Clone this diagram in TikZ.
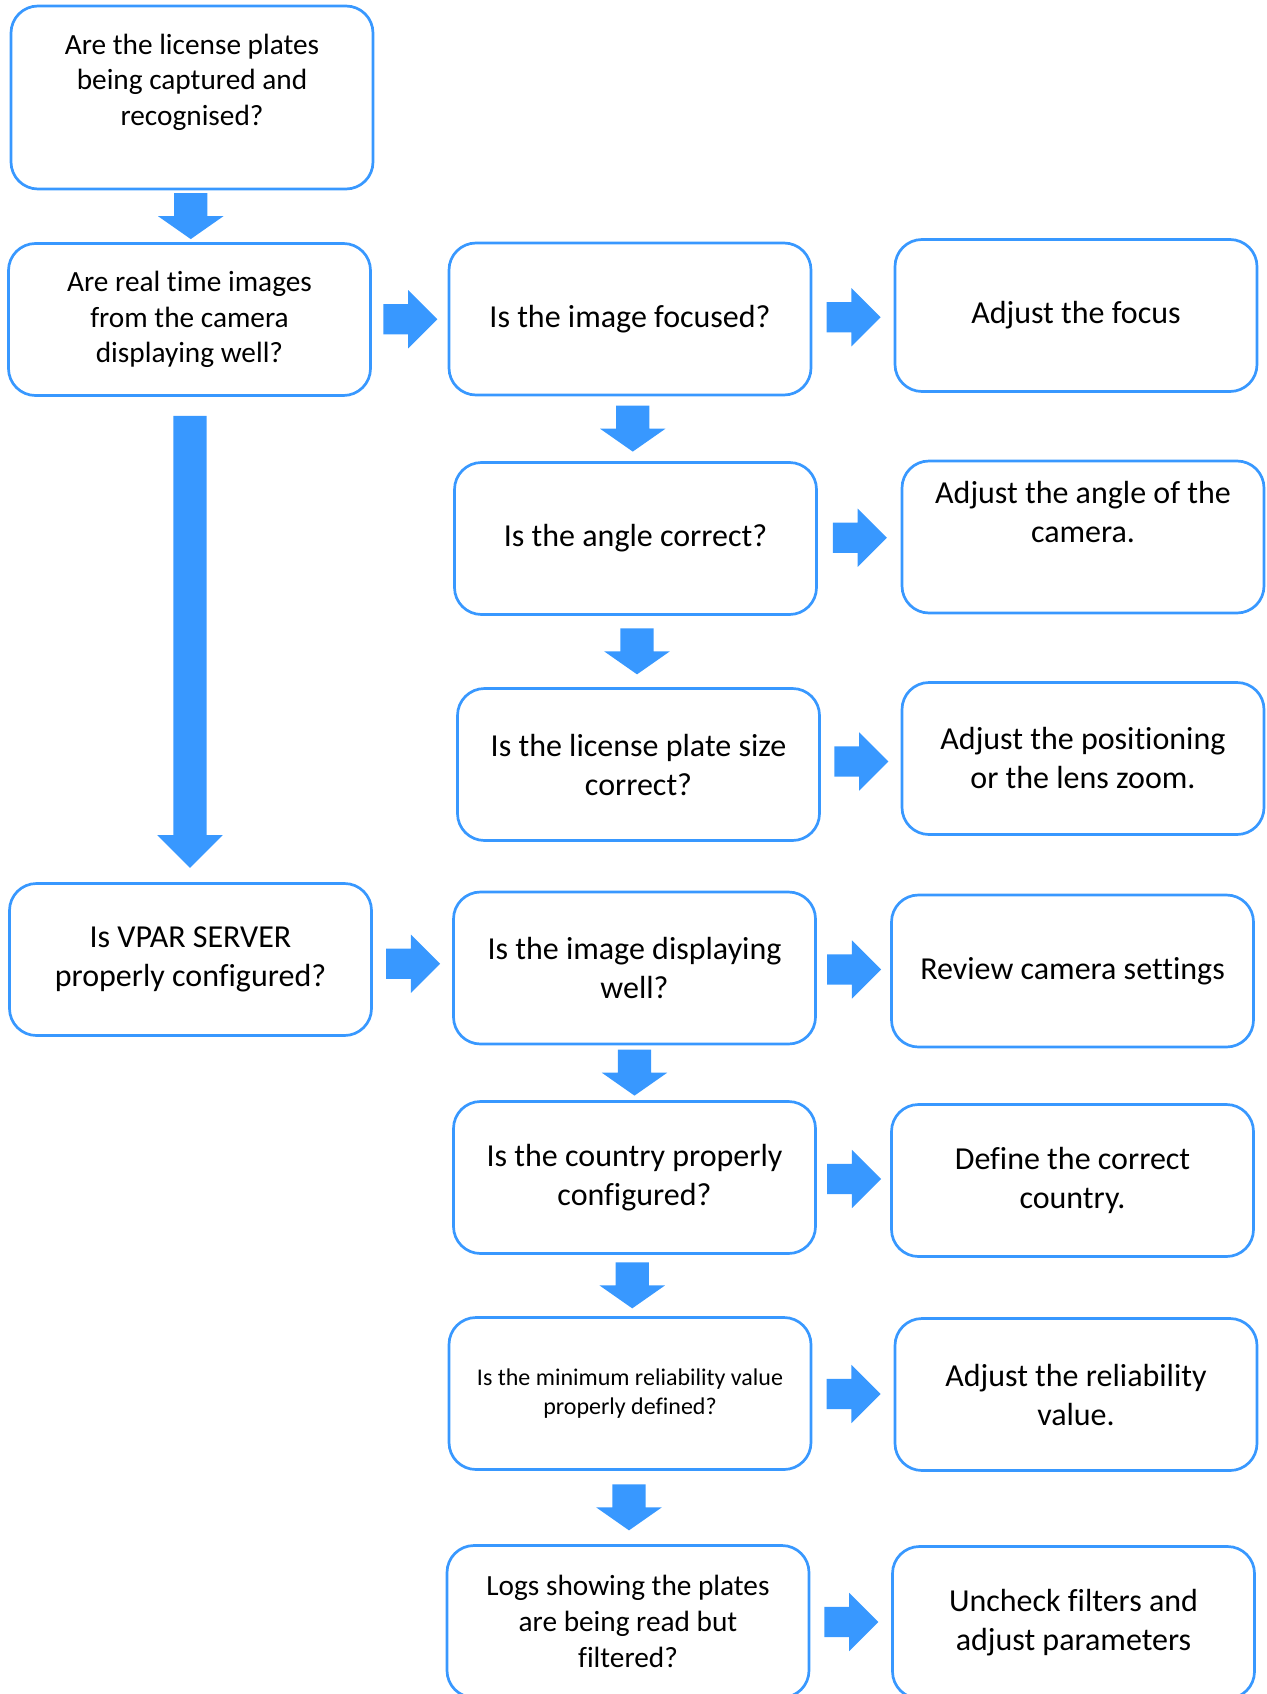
\documentclass[tikz,border=0pt]{standalone}
\usepackage{fontspec}
\setmainfont{Carlito}[Ligatures={NoCommon,NoContextual},RawFeature={-clig}]
\usetikzlibrary{shapes.arrows,calc}
\definecolor{flowblue}{RGB}{56,152,255}

\begin{document}
\begin{tikzpicture}[x=1pt,y=-1pt,
    stepbox/.style={draw=flowblue, line width=2.7pt, rounded corners=27pt,
      minimum width=362pt, minimum height=152pt, inner sep=0pt, align=center,
      font=\fontsize{32}{39}\selectfont},
    smalltext/.style={font=\fontsize{29.3}{35.7}\selectfont},
    tinytext/.style={font=\fontsize{24}{29.3}\selectfont},
    rarrow/.style={single arrow, fill=flowblue, inner sep=15pt, xshift=-7pt,
      minimum height=54pt, single arrow head extend=14pt},
    darrow/.style={single arrow, fill=flowblue, inner sep=16.5pt, yshift=6pt,
      shape border rotate=270, minimum height=46pt, single arrow head extend=16pt,
      single arrow tip angle=110}]
    \useasboundingbox (0,0) rectangle (1266,1694);
    \clip (0,0) rectangle (1266,1694);

    % Nodes
    \node[stepbox, smalltext, minimum height=183pt] (plates) at (192,97.5) {Are the license plates\\being captured and\\recognised?\\\mbox{}};
    \node[stepbox, smalltext] (realtime) at (189.5,319.5) {Are real time images\\from the camera\\displaying well?};
    \node[stepbox] (focused) at (630,319) {Is the image focused?};
    \node[stepbox] (focus) at (1076,315.5) {Adjust the focus};
    \node[stepbox] (angle) at (635.5,538.5) {Is the angle correct?};
    \node[stepbox] (adjangle) at (1083,537) {Adjust the angle of the\\camera.\\\strut};
    \node[stepbox] (size) at (638.5,764.5) {Is the license plate size\\correct?};
    \node[stepbox] (zoom) at (1083,758.5) {Adjust the positioning\\or the lens zoom.};
    \node[stepbox] (server) at (190.5,959.5) {Is VPAR SERVER\\properly configured?};
    \node[stepbox] (display) at (634.5,968) {Is the image displaying\\well?};
    \node[stepbox] (settings) at (1072.5,971) {Review camera settings};
    \node[stepbox] (country) at (634.5,1177.5) {Is the country properly\\configured?};
    \node[stepbox] (defcountry) at (1072.5,1180.5) {Define the correct\\country.};
    \node[stepbox, tinytext] (reliab) at (630,1393.5) {Is the minimum reliability value\\properly defined?};
    \node[stepbox] (adjreliab) at (1076,1394.5) {Adjust the reliability\\value.};
    \node[stepbox, smalltext] (logs) at (628,1621.5) {Logs showing the plates\\are being read but\\filtered?};
    \node[stepbox] (filters) at (1073.5,1622.5) {Uncheck filters and\\adjust parameters};

    % Connections down
    \node[darrow] (platesdown) at ($(plates.south)!0.5!(realtime.north)$) {};
    \node[darrow, minimum height=452pt, single arrow tip angle=90] (realtimedown) at ($(realtime.south)!0.5!(server.north)$) {};
    \node[darrow] (focuseddown) at ($(focused.south)!0.5!(angle.north)$) {};
    \node[darrow] (angledown) at ($(angle.south)!0.5!(size.north)$) {};
    \node[darrow] (displaydown) at ($(display.south)!0.5!(country.north)$) {};
    \node[darrow] (countrydown) at ($(country.south)!0.5!(reliab.north)$) {};
    \node[darrow] (reliabdown) at ($(reliab.south)!0.5!(logs.north)$) {};

    % Connections right
    \node[rarrow] (realtimeright) at ($(realtime.east)!0.5!(focused.west)$) {};
    \node[rarrow] (focusedright) at ($(focused.east)!0.5!(focus.west)$) {};
    \node[rarrow] (angleright) at ($(angle.east)!0.5!(adjangle.west)$) {};
    \node[rarrow] (sizeright) at ($(size.east)!0.5!(zoom.west)$) {};
    \node[rarrow] (serverright) at ($(server.east)!0.5!(display.west)$) {};
    \node[rarrow] (displayright) at ($(display.east)!0.5!(settings.west)$) {};
    \node[rarrow] (countryright) at ($(country.east)!0.5!(defcountry.west)$) {};
    \node[rarrow] (reliabright) at ($(reliab.east)!0.5!(adjreliab.west)$) {};
    \node[rarrow] (logsright) at ($(logs.east)!0.5!(filters.west)$) {};
\end{tikzpicture}
\end{document}
